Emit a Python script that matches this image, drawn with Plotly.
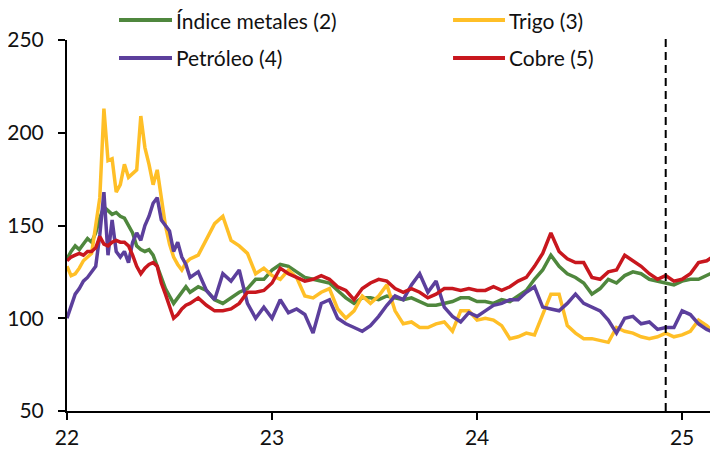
import plotly.graph_objects as go

# x positions in years ("22" = 2022.0)
x_years = [22.00, 22.02, 22.04, 22.06, 22.08, 22.10, 22.12, 22.14, 22.16, 22.18,
           22.20, 22.22, 22.24, 22.26, 22.28, 22.30, 22.32, 22.34, 22.36, 22.38,
           22.40, 22.42, 22.44, 22.46, 22.48, 22.50, 22.52, 22.54, 22.56, 22.58, 22.60,
           22.64, 22.68, 22.72, 22.76, 22.80, 22.84, 22.88, 22.92, 22.96, 23.00,
           23.04, 23.08, 23.12, 23.16, 23.20, 23.24, 23.28, 23.32, 23.36, 23.40,
           23.44, 23.48, 23.52, 23.56, 23.60, 23.64, 23.68, 23.72, 23.76, 23.80,
           23.84, 23.88, 23.92, 23.96, 24.00, 24.04, 24.08, 24.12, 24.16, 24.20,
           24.24, 24.28, 24.32, 24.36, 24.40, 24.44, 24.48, 24.52, 24.56, 24.60,
           24.64, 24.68, 24.72, 24.76, 24.80, 24.84, 24.88, 24.92, 24.96, 25.00,
           25.04, 25.08, 25.12, 25.16, 25.175]

metales = [132, 136, 139, 137, 140, 143, 141, 146, 154, 160,
           158, 156, 157, 155, 154, 150, 146, 139, 137, 136,
           137, 134, 128, 121, 116, 112, 108, 111, 114, 117, 114,
           117, 115, 110, 108, 111, 114, 116, 121, 121, 126,
           129, 128, 125, 122, 121, 120, 119, 115, 111, 108,
           111, 111, 110, 112, 111, 110, 111, 109, 107, 107,
           108, 109, 111, 111, 109, 109, 108, 110, 109, 112,
           115, 121, 126, 134, 128, 124, 122, 119, 113, 116,
           121, 119, 123, 125, 124, 121, 120, 119, 118, 120,
           121, 121, 123, 125, 126]

trigo = [128, 123, 124, 127, 131, 133, 135, 150, 165, 213,
         185, 186, 168, 172, 183, 176, 178, 180, 209, 192,
         183, 172, 180, 166, 150, 140, 133, 129, 126, 130, 132,
         134, 143, 151, 155, 142, 139, 135, 124, 127, 123,
         121, 126, 122, 112, 111, 114, 116, 105, 100, 104,
         112, 108, 112, 118, 104, 97, 98, 95, 95, 97,
         98, 93, 104, 104, 99, 100, 99, 96, 89, 90,
         92, 91, 102, 113, 113, 96, 92, 89, 89, 88,
         87, 95, 93, 92, 90, 89, 90, 92, 90, 91,
         93, 99, 96, 92, 92]

petroleo = [100, 107, 113, 116, 120, 122, 125, 128, 145, 168,
            134, 153, 136, 133, 136, 130, 141, 146, 142, 150,
            155, 162, 165, 153, 150, 147, 136, 141, 133, 129, 122,
            125, 115, 110, 124, 120, 126, 108, 100, 106, 100,
            110, 103, 105, 102, 92, 108, 110, 100, 97, 95,
            93, 96, 101, 107, 112, 110, 118, 124, 114, 120,
            106, 101, 98, 103, 101, 104, 107, 108, 110, 110,
            114, 117, 106, 105, 104, 108, 113, 108, 106, 104,
            99, 92, 100, 101, 97, 98, 94, 95, 95, 104,
            102, 97, 94, 92, 93]

cobre = [131, 133, 134, 135, 134, 136, 136, 138, 144, 140,
         139, 141, 142, 141, 141, 139, 134, 128, 124, 127,
         129, 130, 128, 119, 113, 107, 100, 102, 105, 107, 108,
         111, 107, 104, 104, 105, 108, 114, 114, 115, 119,
         127, 124, 122, 120, 121, 123, 121, 117, 115, 110,
         116, 119, 121, 120, 116, 114, 116, 114, 111, 113,
         116, 116, 115, 116, 115, 115, 117, 115, 117, 120,
         122, 128, 135, 146, 136, 132, 130, 130, 122, 121,
         125, 126, 134, 131, 128, 124, 121, 123, 120, 121,
         124, 130, 131, 134, 135]

series_names = ["Índice metales (2)", "Trigo (3)", "Petróleo (4)", "Cobre (5)"]
series_values = [metales, trigo, petroleo, cobre]
series_colors = ["#4f873d", "#ffbf27", "#5c3f9c", "#c8171e"]

x_tick_vals = [22, 23, 24, 25]
x_tick_text = ["22", "23", "24", "25"]
y_tick_vals = [50, 100, 150, 200, 250]
cutoff_x = 24.92

FONT = "Lato"
FS = 21

fig = go.Figure()
for name, vals, col in zip(series_names, series_values, series_colors):
    fig.add_trace(go.Scatter(x=x_years, y=vals, mode="lines", name=name,
                             line=dict(color=col, width=3.5), showlegend=False))

fig.add_shape(type="line", xref="x", yref="paper", x0=cutoff_x, x1=cutoff_x,
              y0=0, y1=1.005, line=dict(color="black", width=2, dash="8px,5px"))

# hand-placed legend (two columns, two rows) above the plot
leg_cols = [(0.0799, 0.1613, 0.1644), (0.593, 0.6728, 0.676)]
leg_rows = [1.0539, 0.9515]
for i, (name, col) in enumerate(zip(series_names, series_colors)):
    x0, x1, xt = leg_cols[i % 2]
    yy = leg_rows[i // 2]
    fig.add_shape(type="line", xref="paper", yref="paper", x0=x0, x1=x1, y0=yy, y1=yy,
                  line=dict(color=col, width=4))
    fig.add_annotation(xref="paper", yref="paper", x=xt, y=yy, text=name,
                       showarrow=False, xanchor="left", yanchor="middle",
                       font=dict(family=FONT, size=FS, color="#111"))

fig.update_layout(
    width=710, height=446,
    margin=dict(l=59, r=0, t=32, b=43, autoexpand=False),
    paper_bgcolor="white", plot_bgcolor="white",
    font=dict(family=FONT, size=FS, color="#111"),
    showlegend=False,
    xaxis=dict(range=[22, 25.175], tickvals=x_tick_vals, ticktext=x_tick_text,
               showgrid=False, zeroline=False, showline=True, linecolor="black",
               linewidth=2, ticks="outside", ticklen=7, tickwidth=2, tickcolor="black",
               tickfont=dict(family=FONT, size=FS, color="#111")),
    yaxis=dict(range=[50, 250], tickvals=y_tick_vals,
               showgrid=False, zeroline=False, showline=True, linecolor="black",
               linewidth=2, ticks="outside", ticklen=7, tickwidth=2, tickcolor="black",
               ticklabelstandoff=10,
               tickfont=dict(family=FONT, size=FS, color="#111")),
)

fig.write_html("out.html")
